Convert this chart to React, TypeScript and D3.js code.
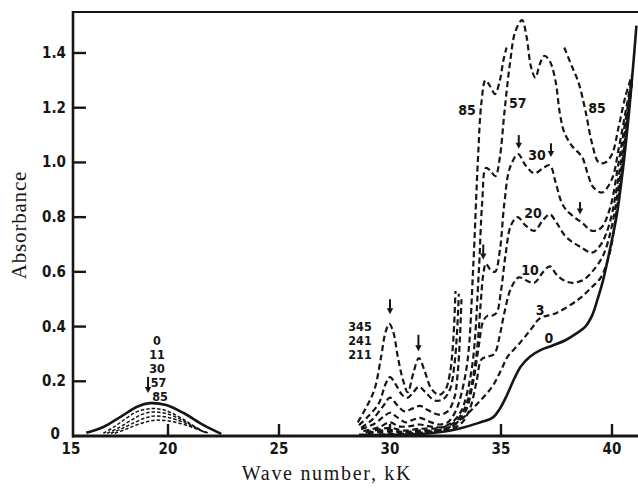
import React, { useEffect, useRef } from 'react';
import * as d3 from 'd3';

type Pt = [number, number];

// axis ticks
const yTicks = [0.2, 0.4, 0.6, 0.8, 1.0, 1.2, 1.4];
const yTickLabels = ['0.2', '0.4', '0.6', '0.8', '1.0', '1.2', '1.4'];
const xTicks = [20, 25, 30, 35, 40];
const xTickLabels = ['15', '20', '25', '30', '35', '40'];
const xLabelValues = [15, 20, 25, 30, 35, 40];

// visible band (minutes: 0, 11, 30, 57, 85)
const vis0: Pt[] = [[15.7, 0.012], [16.6, 0.033], [17.5, 0.07], [18.4, 0.108], [19.05, 0.12], [19.9, 0.113], [20.7, 0.084], [21.6, 0.04], [22.4, 0.008]];
const vis11: Pt[] = [[16.6, 0.01], [17.2, 0.035], [17.8, 0.065], [18.4, 0.09], [19.1, 0.1], [19.8, 0.095], [20.5, 0.07], [21.1, 0.04], [21.6, 0.015]];
const vis30: Pt[] = [[16.8, 0.01], [17.4, 0.03], [18.0, 0.055], [18.6, 0.078], [19.2, 0.088], [19.9, 0.082], [20.6, 0.06], [21.2, 0.033], [21.7, 0.012]];
const vis57: Pt[] = [[17.0, 0.01], [17.6, 0.028], [18.2, 0.048], [18.8, 0.066], [19.3, 0.073], [20.0, 0.068], [20.7, 0.05], [21.3, 0.027], [21.8, 0.01]];
const vis85: Pt[] = [[17.2, 0.01], [17.8, 0.025], [18.4, 0.042], [19.0, 0.054], [19.4, 0.058], [20.1, 0.054], [20.8, 0.04], [21.4, 0.022], [21.9, 0.01]];

// UV region
const uv0: Pt[] = [[28.6, 0.004], [30, 0.004], [31, 0.006], [32, 0.012], [33, 0.025], [34.0, 0.048], [34.64, 0.068], [34.95, 0.1], [35.27, 0.15], [35.6, 0.21], [35.9, 0.255], [36.3, 0.29], [36.8, 0.315], [37.3, 0.33], [37.9, 0.35], [38.4, 0.375], [38.8, 0.4], [39.1, 0.44], [39.35, 0.5], [39.6, 0.57], [39.9, 0.68], [40.2, 0.8], [40.5, 0.98], [40.75, 1.17], [40.95, 1.35], [41.1, 1.5]];
const uv3: Pt[] = [[29.5, 0.006], [31, 0.01], [32, 0.018], [32.6, 0.03], [33.2, 0.06], [33.9, 0.115], [34.6, 0.18], [35.0, 0.24], [35.3, 0.29], [35.85, 0.34], [36.35, 0.39], [36.75, 0.43], [37.5, 0.45], [38.5, 0.5], [39.1, 0.545], [39.5, 0.58], [39.9, 0.67], [40.2, 0.82], [40.5, 1.01], [40.75, 1.19], [40.9, 1.3]];
const uv10: Pt[] = [[29.0, 0.01], [30.0, 0.016], [30.6, 0.012], [31.3, 0.015], [32.5, 0.02], [33.2, 0.045], [33.6, 0.1], [33.9, 0.2], [34.12, 0.28], [34.4, 0.29], [34.7, 0.3], [34.95, 0.37], [35.15, 0.45], [35.45, 0.54], [35.8, 0.58], [36.1, 0.57], [36.5, 0.56], [36.9, 0.6], [37.2, 0.62], [37.5, 0.59], [37.8, 0.57], [38.2, 0.56], [38.7, 0.57], [39.1, 0.6], [39.6, 0.66], [40.0, 0.77], [40.4, 0.97], [40.7, 1.15], [40.9, 1.29]];
const uv20: Pt[] = [[29.0, 0.012], [30.0, 0.022], [30.6, 0.015], [31.3, 0.02], [32.3, 0.022], [32.9, 0.04], [33.4, 0.09], [33.75, 0.2], [34.0, 0.33], [34.2, 0.42], [34.4, 0.44], [34.6, 0.44], [34.8, 0.45], [35.0, 0.53], [35.2, 0.66], [35.45, 0.77], [35.75, 0.8], [36.1, 0.77], [36.5, 0.75], [36.9, 0.79], [37.2, 0.81], [37.5, 0.78], [37.9, 0.73], [38.2, 0.71], [38.6, 0.69], [39.1, 0.67], [39.5, 0.7], [39.9, 0.78], [40.3, 0.95], [40.6, 1.12], [40.9, 1.3]];
const uv30: Pt[] = [[28.9, 0.012], [30.0, 0.03], [30.6, 0.02], [31.3, 0.026], [32.3, 0.03], [32.9, 0.05], [33.3, 0.09], [33.6, 0.16], [33.9, 0.3], [34.08, 0.48], [34.2, 0.59], [34.32, 0.63], [34.5, 0.61], [34.73, 0.6], [34.95, 0.68], [35.15, 0.85], [35.4, 0.98], [35.77, 1.03], [36.1, 0.99], [36.5, 0.96], [36.9, 0.98], [37.2, 0.99], [37.45, 0.93], [37.7, 0.86], [37.9, 0.83], [38.3, 0.8], [38.65, 0.78], [39.1, 0.75], [39.5, 0.76], [39.9, 0.83], [40.3, 1.0], [40.6, 1.15], [40.9, 1.3]];
const uv57: Pt[] = [[28.8, 0.018], [29.5, 0.032], [30.0, 0.05], [30.4, 0.035], [30.9, 0.036], [31.35, 0.042], [31.8, 0.035], [32.3, 0.032], [32.8, 0.05], [33.2, 0.09], [33.45, 0.15], [33.74, 0.28], [34.0, 0.6], [34.15, 0.85], [34.32, 0.98], [34.52, 0.97], [34.75, 0.95], [34.95, 1.02], [35.15, 1.18], [35.4, 1.36], [35.65, 1.48], [35.95, 1.52], [36.15, 1.46], [36.35, 1.35], [36.55, 1.31], [36.75, 1.36], [36.96, 1.39], [37.2, 1.37], [37.45, 1.3], [37.65, 1.18], [37.85, 1.11], [38.2, 1.06], [38.65, 1.02], [38.9, 0.96], [39.15, 0.91], [39.55, 0.89], [40.0, 0.94], [40.3, 1.05], [40.6, 1.18], [40.9, 1.31]];
const uv85a: Pt[] = [[28.7, 0.025], [29.3, 0.045], [29.7, 0.07], [30.0, 0.085], [30.3, 0.07], [30.7, 0.05], [31.0, 0.058], [31.35, 0.066], [31.7, 0.055], [32.2, 0.042], [32.6, 0.05], [32.95, 0.09], [33.2, 0.15], [33.5, 0.28], [33.75, 0.62], [33.96, 1.01], [34.12, 1.22], [34.3, 1.3], [34.5, 1.28], [34.73, 1.25], [34.95, 1.3], [35.1, 1.37], [35.25, 1.42]];
const uv85b: Pt[] = [[37.85, 1.42], [38.2, 1.35], [38.5, 1.29], [38.8, 1.19], [39.1, 1.07], [39.4, 1.0], [39.7, 1.0], [40.0, 1.03], [40.3, 1.13], [40.6, 1.24], [40.9, 1.32]];
const uv211: Pt[] = [[28.7, 0.03], [29.2, 0.06], [29.7, 0.11], [30.0, 0.14], [30.3, 0.115], [30.65, 0.09], [31.0, 0.1], [31.35, 0.11], [31.7, 0.095], [32.2, 0.078], [32.6, 0.09], [32.9, 0.14], [33.05, 0.23], [33.15, 0.36], [33.22, 0.5]];
const uv241: Pt[] = [[28.6, 0.04], [29.0, 0.07], [29.5, 0.12], [29.8, 0.19], [30.0, 0.215], [30.25, 0.19], [30.55, 0.15], [30.8, 0.14], [31.05, 0.16], [31.3, 0.18], [31.6, 0.16], [32.0, 0.13], [32.4, 0.135], [32.7, 0.17], [32.9, 0.26], [33.02, 0.38], [33.1, 0.52]];
const uv345: Pt[] = [[28.55, 0.05], [28.9, 0.1], [29.3, 0.17], [29.6, 0.29], [29.8, 0.38], [29.97, 0.41], [30.15, 0.38], [30.35, 0.29], [30.6, 0.2], [30.8, 0.16], [31.05, 0.23], [31.3, 0.285], [31.55, 0.24], [31.85, 0.175], [32.2, 0.15], [32.5, 0.17], [32.7, 0.23], [32.85, 0.35], [32.95, 0.53]];

const solidCurves = [vis0, uv0];
const fineDashed = [vis11, vis30, vis57, vis85];
const dashedCurves = [uv3, uv10, uv20, uv30, uv57, uv85a, uv85b, uv211, uv241, uv345];

// annotations: text, wave number, absorbance (centre), font size
const curveLabels: [string, number, number, number][] = [
    ['0', 19.42, 0.349, 12.5], ['11', 19.42, 0.298, 12.5], ['30', 19.42, 0.247, 12.5], ['57', 19.5, 0.196, 12.5], ['85', 19.58, 0.145, 12.5],
    ['345', 28.65, 0.4, 12.5], ['241', 28.65, 0.349, 12.5], ['211', 28.65, 0.298, 12.5],
    ['85', 33.47, 1.19, 14], ['57', 35.75, 1.217, 14], ['85', 39.32, 1.2, 14],
    ['30', 36.62, 1.027, 14], ['20', 36.44, 0.815, 14], ['10', 36.31, 0.607, 14], ['3', 36.76, 0.46, 14], ['0', 37.16, 0.358, 14],
];
// arrows: wave number, absorbance top, absorbance tip
const arrows: [number, number, number][] = [
    [18.95, 0.216, 0.157], [30.0, 0.5, 0.445], [31.28, 0.37, 0.31], [34.2, 0.7, 0.645],
    [35.8, 1.1, 1.05], [37.25, 1.07, 1.02], [38.56, 0.855, 0.81],
];

const W = 638;
const H = 488;

const App = () => {
    const ref = useRef<SVGSVGElement>(null);

    useEffect(() => {
        const svg = d3.select(ref.current);
        svg.selectAll('*').remove();

        const x = d3.scaleLinear().domain([15, 20, 40]).range([73, 168, 612]);
        const y = d3.scaleLinear().domain([0, 1.4]).range([436, 53]);
        const ink = '#161616';
        const tickFont = '"Liberation Sans Narrow", "DejaVu Sans Condensed", Arial, sans-serif';
        const serif = '"Liberation Serif", "DejaVu Serif", Times, serif';

        svg.append('rect').attr('width', W).attr('height', H).attr('fill', '#fff');

        const line = d3.line<Pt>()
            .x(d => x(d[0]))
            .y(d => y(d[1]))
            .curve(d3.curveCatmullRom.alpha(0.5));

        // frame
        svg.append('line').attr('x1', x(15)).attr('x2', W).attr('y1', 12).attr('y2', 12)
            .attr('stroke', ink).attr('stroke-width', 2.2);
        svg.append('line').attr('x1', x(15)).attr('x2', x(15)).attr('y1', 11).attr('y2', y(0) + 1.5)
            .attr('stroke', ink).attr('stroke-width', 2.6);
        svg.append('line').attr('x1', x(15) - 1).attr('x2', W).attr('y1', y(0)).attr('y2', y(0))
            .attr('stroke', ink).attr('stroke-width', 3);

        // y ticks, pointing inwards
        svg.selectAll('.ytick').data(yTicks).enter().append('line')
            .attr('x1', x(15)).attr('x2', x(15) + 13)
            .attr('y1', d => y(d)).attr('y2', d => y(d))
            .attr('stroke', ink).attr('stroke-width', 2.4);
        svg.selectAll('.ylab').data(yTicks).enter().append('text')
            .attr('x', 66).attr('y', d => y(d) + 5)
            .attr('text-anchor', 'end')
            .attr('font-family', tickFont).attr('font-weight', 'bold').attr('font-size', 15)
            .attr('fill', ink)
            .text((d, i) => yTickLabels[i]);
        svg.append('text').attr('x', 60).attr('y', y(0) + 3)
            .attr('text-anchor', 'end')
            .attr('font-family', tickFont).attr('font-weight', 'bold').attr('font-size', 15)
            .attr('fill', ink).text('0');

        // x ticks, pointing upwards
        svg.selectAll('.xtick').data(xTicks).enter().append('line')
            .attr('x1', d => x(d)).attr('x2', d => x(d))
            .attr('y1', y(0)).attr('y2', y(0) - 12)
            .attr('stroke', ink).attr('stroke-width', 2.4);
        svg.selectAll('.xlab').data(xLabelValues).enter().append('text')
            .attr('x', d => (d === 15 ? x(d) - 2 : x(d)))
            .attr('y', 454)
            .attr('text-anchor', 'middle')
            .attr('font-family', tickFont).attr('font-weight', 'bold').attr('font-size', 15)
            .attr('fill', ink)
            .text((d, i) => xTickLabels[i]);

        // axis titles
        svg.append('text')
            .attr('transform', `translate(26,${225}) rotate(-90)`)
            .attr('text-anchor', 'middle')
            .attr('font-family', serif).attr('font-size', 21).attr('letter-spacing', 0.8)
            .attr('fill', ink)
            .text('Absorbance');
        svg.append('text')
            .attr('x', 327).attr('y', 480)
            .attr('text-anchor', 'middle')
            .attr('font-family', serif).attr('font-size', 20).attr('letter-spacing', 1.7)
            .attr('fill', ink)
            .text('Wave number, kK');

        // curves
        svg.selectAll('.fine').data(fineDashed).enter().append('path')
            .attr('d', d => line(d))
            .attr('fill', 'none').attr('stroke', ink)
            .attr('stroke-width', 1.5).attr('stroke-dasharray', '3.5,2');
        svg.selectAll('.dash').data(dashedCurves).enter().append('path')
            .attr('d', d => line(d))
            .attr('fill', 'none').attr('stroke', ink)
            .attr('stroke-width', 2.2).attr('stroke-dasharray', '6,3.5');
        svg.selectAll('.solid').data(solidCurves).enter().append('path')
            .attr('d', d => line(d))
            .attr('fill', 'none').attr('stroke', ink)
            .attr('stroke-width', 2.6);

        // labels
        svg.selectAll('.clab').data(curveLabels).enter().append('text')
            .attr('x', d => x(d[1])).attr('y', d => y(d[2]))
            .attr('dy', '0.36em')
            .attr('text-anchor', 'middle')
            .attr('font-family', tickFont).attr('font-weight', 'bold').attr('font-size', d => d[3])
            .attr('fill', ink)
            .text(d => d[0]);

        // arrows
        const arr = svg.selectAll('.arrow').data(arrows).enter().append('g');
        arr.append('line')
            .attr('x1', d => x(d[0])).attr('x2', d => x(d[0]))
            .attr('y1', d => y(d[1])).attr('y2', d => y(d[2]) - 4)
            .attr('stroke', ink).attr('stroke-width', 2);
        arr.append('path')
            .attr('d', d => {
                const cx = x(d[0]);
                const ty = y(d[2]);
                return `M${cx - 3.2},${ty - 6}L${cx + 3.2},${ty - 6}L${cx},${ty}Z`;
            })
            .attr('fill', ink);
    }, []);

    return (
        <svg ref={ref} width={W} height={H}
            style={{ position: 'absolute', left: 0, top: 0, display: 'block' }} />
    );
};

export default App;
